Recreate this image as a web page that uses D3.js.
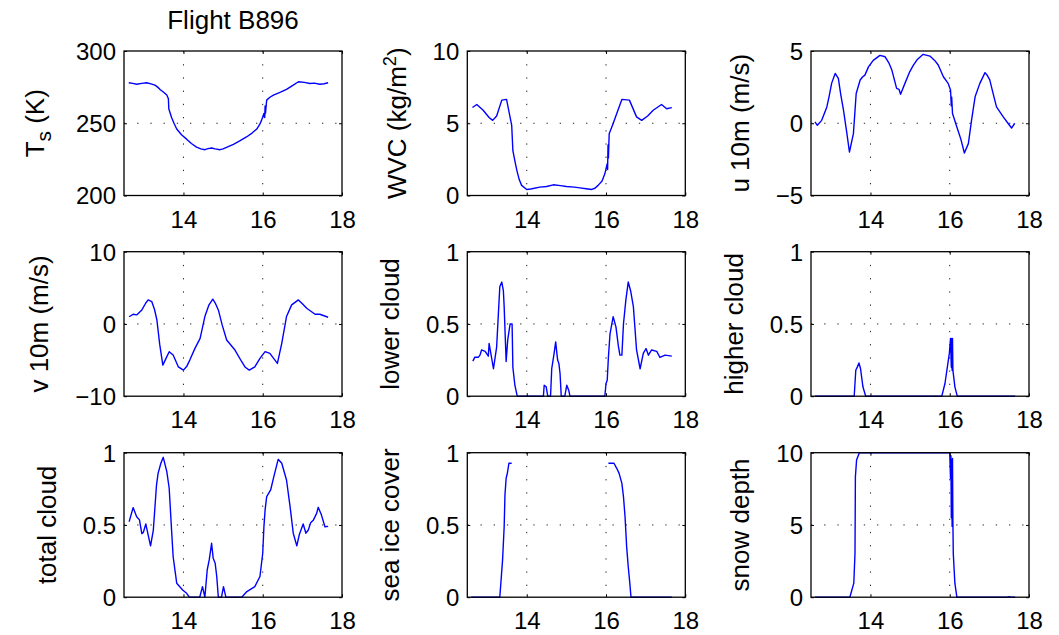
<!DOCTYPE html>
<html>
<head>
<meta charset="utf-8">
<script src="https://cdn.jsdelivr.net/npm/d3@7"></script>
<style>
  body { margin: 0; background: #fff; }
  text { font-family: "Liberation Sans", Arial, Helvetica, sans-serif; fill: #000; }
</style>
</head>
<body>
<svg id="fig" width="1059" height="635"></svg>
<script>
// Time axis (hours UTC) shared by all panels
const timeDomain = [12.5, 18];
const timeTicks = [14, 16, 18];

// Each series: [hour, value]; null marks missing data
const surfaceTemp = [[12.62,278],[12.72,277.6],[12.82,277],[12.95,277.6],[13.07,278],[13.18,277.2],[13.28,276.4],[13.35,275],[13.41,273.4],[13.5,271.5],[13.58,269.5],[13.62,267],[13.63,260],[13.70,254],[13.77,249.5],[13.83,246],[13.95,242],[14.08,239],[14.2,236],[14.33,233.5],[14.44,232.3],[14.54,231.7],[14.62,232.4],[14.71,232.9],[14.8,232.3],[14.92,231.7],[15.0,232.3],[15.1,233.5],[15.26,235.4],[15.42,237.8],[15.59,240.5],[15.73,243.2],[15.85,246],[15.92,249],[15.97,252],[16.03,256.7],[16.05,254],[16.06,262],[16.07,257],[16.1,266],[16.18,268],[16.27,269.5],[16.45,271.5],[16.6,273.4],[16.75,276],[16.9,278.7],[17.05,278.3],[17.19,277.5],[17.3,277.8],[17.44,277],[17.55,277.3],[17.65,278]];

const waterVapour = [[12.63,6.09],[12.74,6.3],[12.9,5.9],[13.05,5.4],[13.14,5.2],[13.24,5.5],[13.37,6.6],[13.49,6.65],[13.62,4.86],[13.65,3.1],[13.7,2.4],[13.75,1.74],[13.81,1.1],[13.87,0.7],[14.0,0.42],[14.1,0.45],[14.33,0.58],[14.5,0.62],[14.67,0.74],[14.85,0.68],[15.0,0.62],[15.2,0.58],[15.34,0.53],[15.5,0.47],[15.64,0.42],[15.72,0.5],[15.8,0.7],[15.9,1.0],[15.97,1.5],[16.03,2.2],[16.04,1.8],[16.05,3.5],[16.06,2.6],[16.08,4.28],[16.18,4.98],[16.3,5.9],[16.4,6.65],[16.59,6.6],[16.77,5.44],[16.9,5.2],[17.05,5.5],[17.19,5.9],[17.4,6.3],[17.53,6.0],[17.66,6.08]];

const windU = [[12.6,0.1],[12.66,-0.14],[12.77,0.2],[12.9,1.13],[12.96,1.9],[13.02,2.76],[13.11,3.45],[13.19,3.1],[13.25,2.0],[13.32,0.9],[13.4,-0.6],[13.47,-1.99],[13.57,-0.72],[13.64,2.06],[13.74,2.99],[13.8,3.2],[13.86,3.33],[13.95,3.9],[14.07,4.35],[14.24,4.7],[14.37,4.6],[14.46,4.2],[14.54,3.68],[14.66,2.41],[14.72,2.35],[14.76,2.01],[14.87,2.76],[14.99,3.56],[15.08,4.0],[15.17,4.37],[15.33,4.77],[15.5,4.65],[15.62,4.35],[15.71,4.03],[15.84,3.22],[15.96,2.76],[16.02,2.3],[16.04,1.2],[16.05,1.8],[16.07,0.67],[16.18,-0.26],[16.28,-1.1],[16.37,-2.06],[16.47,-1.41],[16.55,0.2],[16.64,1.83],[16.76,2.76],[16.89,3.5],[16.95,3.3],[17.01,3.0],[17.1,2.0],[17.18,1.13],[17.35,0.44],[17.47,0.0],[17.56,-0.33],[17.64,0.0]];

const windV = [[12.63,1.0],[12.73,1.34],[12.82,1.25],[12.95,1.94],[13.05,2.9],[13.11,3.33],[13.2,3.1],[13.27,2.0],[13.33,0.55],[13.4,-2.8],[13.48,-5.7],[13.56,-4.77],[13.64,-3.84],[13.74,-4.3],[13.87,-5.93],[14.0,-6.39],[14.08,-5.9],[14.16,-5.0],[14.29,-3.38],[14.42,-1.99],[14.48,-0.5],[14.54,1.02],[14.64,2.6],[14.74,3.43],[14.81,2.8],[14.88,1.94],[14.98,-0.2],[15.09,-2.22],[15.3,-3.61],[15.47,-5.23],[15.56,-6.0],[15.66,-6.39],[15.8,-5.93],[15.93,-4.77],[16.06,-3.84],[16.18,-4.07],[16.37,-5.46],[16.48,-2.68],[16.6,1.02],[16.73,2.64],[16.9,3.33],[17.0,2.8],[17.11,2.18],[17.32,1.34],[17.44,1.34],[17.65,0.93]];

const lowerCloud = [[12.64,0.243],[12.69,0.27],[12.78,0.27],[12.82,0.284],[12.86,0.32],[12.95,0.31],[13.03,0.277],[13.05,0.365],[13.16,0.19],[13.24,0.34],[13.32,0.757],[13.37,0.79],[13.41,0.73],[13.43,0.62],[13.48,0.24],[13.52,0.39],[13.58,0.5],[13.63,0.5],[13.65,0.2],[13.7,0.076],[13.76,0],[14.42,0],[14.44,0.076],[14.49,0.065],[14.53,0],[14.6,0],[14.63,0.19],[14.69,0.296],[14.73,0.376],[14.76,0.296],[14.78,0.25],[14.81,0.227],[14.84,0.157],[14.87,0],[14.96,0],[15.01,0.076],[15.06,0.04],[15.09,0],[15.97,0],[16.0,0.088],[16.03,0.11],[16.06,0.27],[16.1,0.43],[16.18,0.55],[16.25,0.48],[16.31,0.35],[16.35,0.284],[16.4,0.284],[16.44,0.5],[16.5,0.665],[16.56,0.79],[16.62,0.73],[16.69,0.62],[16.77,0.32],[16.86,0.19],[16.94,0.296],[17.01,0.33],[17.07,0.284],[17.15,0.32],[17.28,0.31],[17.36,0.268],[17.49,0.284],[17.66,0.277]];

const higherCloud = [[12.6,0],[13.59,0],[13.63,0.18],[13.67,0.203],[13.71,0.23],[13.75,0.19],[13.81,0.065],[13.88,0],[15.8,0],[15.88,0.088],[15.99,0.296],[16.02,0.4],[16.04,0.2],[16.05,0.4],[16.06,0.18],[16.07,0.4],[16.08,0.18],[16.13,0.065],[16.19,0],[17.65,0]];

const totalCloud = [[12.63,0.523],[12.73,0.62],[12.82,0.557],[12.89,0.535],[12.95,0.44],[12.99,0.45],[13.05,0.507],[13.11,0.43],[13.17,0.355],[13.24,0.465],[13.32,0.776],[13.36,0.857],[13.43,0.927],[13.49,0.968],[13.58,0.869],[13.64,0.754],[13.7,0.465],[13.74,0.28],[13.83,0.097],[13.98,0.05],[14.08,0.027],[14.15,0],[14.41,0],[14.48,0.073],[14.54,0],[14.6,0.19],[14.65,0.258],[14.71,0.373],[14.75,0.27],[14.8,0.235],[14.84,0.143],[14.88,0],[14.96,0],[15.01,0.073],[15.07,0],[15.47,0],[15.6,0.039],[15.8,0.073],[15.93,0.143],[16.0,0.304],[16.03,0.488],[16.06,0.604],[16.1,0.696],[16.2,0.742],[16.28,0.834],[16.39,0.954],[16.48,0.927],[16.6,0.811],[16.69,0.627],[16.77,0.443],[16.86,0.355],[16.92,0.43],[17.02,0.507],[17.09,0.443],[17.15,0.465],[17.21,0.516],[17.28,0.535],[17.36,0.58],[17.4,0.622],[17.48,0.57],[17.57,0.488],[17.65,0.49]];

const seaIce = [[12.6,0],[13.32,0],[13.39,0.258],[13.43,0.488],[13.45,0.707],[13.48,0.823],[13.51,0.857],[13.55,0.927],[13.62,0.927],[13.64,null],[16.04,null],[16.06,0.927],[16.2,0.927],[16.27,0.892],[16.33,0.857],[16.4,0.788],[16.44,0.696],[16.48,0.557],[16.52,0.35],[16.56,0.212],[16.6,0.097],[16.63,0],[17.66,0]];

const snowDepth = [[12.6,0],[13.48,0],[13.58,0.97],[13.61,3.04],[13.62,8.34],[13.65,9.5],[13.72,10],[16.0,10],[16.02,8.2],[16.03,9.8],[16.04,5.5],[16.05,9.5],[16.06,4.9],[16.07,9.6],[16.08,5.2],[16.09,3.0],[16.13,0.97],[16.18,0],[17.45,0],[17.5,0.04],[17.55,0],[17.65,0]];

// Y-axis ranges and tick labels per variable
const tempTicks = [200, 250, 300];
const wvcTicks = [0, 5, 10];
const uTicks = [-5, 0, 5];
const vTicks = [-10, 0, 10];
const fractionTicks = [0, 0.5, 1];
const snowTicks = [0, 5, 10];

const panels = [
  { data: surfaceTemp, ticks: tempTicks, label: [["T"], ["s", "sub"], [" (K)"]] },
  { data: waterVapour, ticks: wvcTicks, label: [["WVC (kg/m"], ["2", "sup"], [")"]] },
  { data: windU, ticks: uTicks, label: [["u 10m (m/s)"]] },
  { data: windV, ticks: vTicks, label: [["v 10m (m/s)"]] },
  { data: lowerCloud, ticks: fractionTicks, label: [["lower cloud"]] },
  { data: higherCloud, ticks: fractionTicks, label: [["higher cloud"]] },
  { data: totalCloud, ticks: fractionTicks, label: [["total cloud"]] },
  { data: seaIce, ticks: fractionTicks, label: [["sea ice cover"]] },
  { data: snowDepth, ticks: snowTicks, label: [["snow depth"]] }
];

// Layout of the 3x3 grid
const colLeft = [124, 467.3, 811];
const rowTop = [51, 251.7, 452.7];
const W = 218, H = 144.5;
const tickFont = 24, labelFont = 26;

const svg = d3.select("#fig");
const fmt = v => String(v).replace("-", "\u2212");

panels.forEach((p, i) => {
  const gx = colLeft[i % 3], gy = rowTop[Math.floor(i / 3)];
  const g = svg.append("g").attr("transform", `translate(${gx},${gy})`);
  const x = d3.scaleLinear().domain(timeDomain).range([0, W]);
  const yd = d3.extent(p.ticks);
  const y = d3.scaleLinear().domain(yd).range([H, 0]);

  // dotted grid at interior ticks
  const grid = g.append("g").attr("stroke", "#222").attr("stroke-width", 1)
    .attr("stroke-dasharray", "1.3 11.9");
  grid.selectAll("line.vx").data(timeTicks.filter(t => t > timeDomain[0] && t < timeDomain[1]))
    .join("line").attr("x1", d => x(d)).attr("x2", d => x(d)).attr("y1", 0).attr("y2", H);
  grid.selectAll("line.hy").data(p.ticks.filter(t => t > yd[0] && t < yd[1]))
    .join("line").attr("y1", d => y(d)).attr("y2", d => y(d)).attr("x1", 0).attr("x2", W);

  // clip the trace to the axes box
  const cid = "clip" + i;
  g.append("clipPath").attr("id", cid).append("rect").attr("x", 0).attr("y", -1).attr("width", W).attr("height", H + 2);

  const line = d3.line()
    .defined(d => d[1] !== null)
    .x(d => x(d[0])).y(d => y(d[1]));
  g.append("path").datum(p.data)
    .attr("clip-path", `url(#${cid})`)
    .attr("fill", "none").attr("stroke", "#0000ff").attr("stroke-width", 1.4)
    .attr("stroke-linejoin", "round")
    .attr("d", line);

  // axes with inward ticks on all four sides
  const styleAxis = sel => {
    sel.select(".domain").remove();
    sel.selectAll(".tick line").attr("stroke", "#000").attr("stroke-width", 1);
    sel.selectAll("text").attr("font-size", tickFont)
      .attr("font-family", '"Liberation Sans", Arial, Helvetica, sans-serif').attr("fill", "#000");
    sel.attr("font-family", null).attr("font-size", null);
  };
  g.append("g").attr("transform", `translate(0,${H})`)
    .call(d3.axisBottom(x).tickValues(timeTicks).tickFormat(fmt).tickSize(-3).tickPadding(15))
    .call(styleAxis);
  g.append("g")
    .call(d3.axisTop(x).tickValues(timeTicks).tickFormat("").tickSize(-3))
    .call(styleAxis);
  const yAxis = g.append("g")
    .call(d3.axisLeft(y).tickValues(p.ticks).tickFormat(fmt).tickSize(-3).tickPadding(8))
    .call(styleAxis);
  yAxis.selectAll("text").attr("dy", "0.35em");
  g.append("g").attr("transform", `translate(${W},0)`)
    .call(d3.axisRight(y).tickValues(p.ticks).tickFormat("").tickSize(-3))
    .call(styleAxis);

  // frame
  g.append("rect").attr("width", W).attr("height", H)
    .attr("fill", "none").attr("stroke", "#000").attr("stroke-width", 1.3);

  // y label placed left of the widest tick label
  let tickLeft = 0;
  yAxis.selectAll("text").each(function () {
    const b = this.getBBox();
    tickLeft = Math.min(tickLeft, b.x - 8);
  });
  const lbl = g.append("text")
    .attr("text-anchor", "middle")
    .attr("font-size", labelFont)
    .attr("transform", `translate(${tickLeft - 19},${H / 2}) rotate(-90)`);
  p.label.forEach(([txt, kind]) => {
    const t = lbl.append("tspan").text(txt);
    if (kind === "sub") t.attr("font-size", labelFont * 0.8).attr("dy", "0.35em");
    else if (kind === "sup") t.attr("font-size", labelFont * 0.7).attr("dy", "-0.55em");
    else if (lbl.selectAll("tspan").size() > 1) {
      const prev = p.label[lbl.selectAll("tspan").size() - 2][1];
      if (prev === "sub") t.attr("dy", "-0.28em");
      if (prev === "sup") t.attr("dy", "0.39em");
    }
  });
  if (i === 0) {
    lbl.attr("transform", `translate(${tickLeft - 24},${H / 2}) rotate(-90)`);
    g.append("text").attr("x", W / 2).attr("y", -22)
      .attr("text-anchor", "middle").attr("font-size", labelFont)
      .text("Flight B896");
  }
});
</script>
</body>
</html>
